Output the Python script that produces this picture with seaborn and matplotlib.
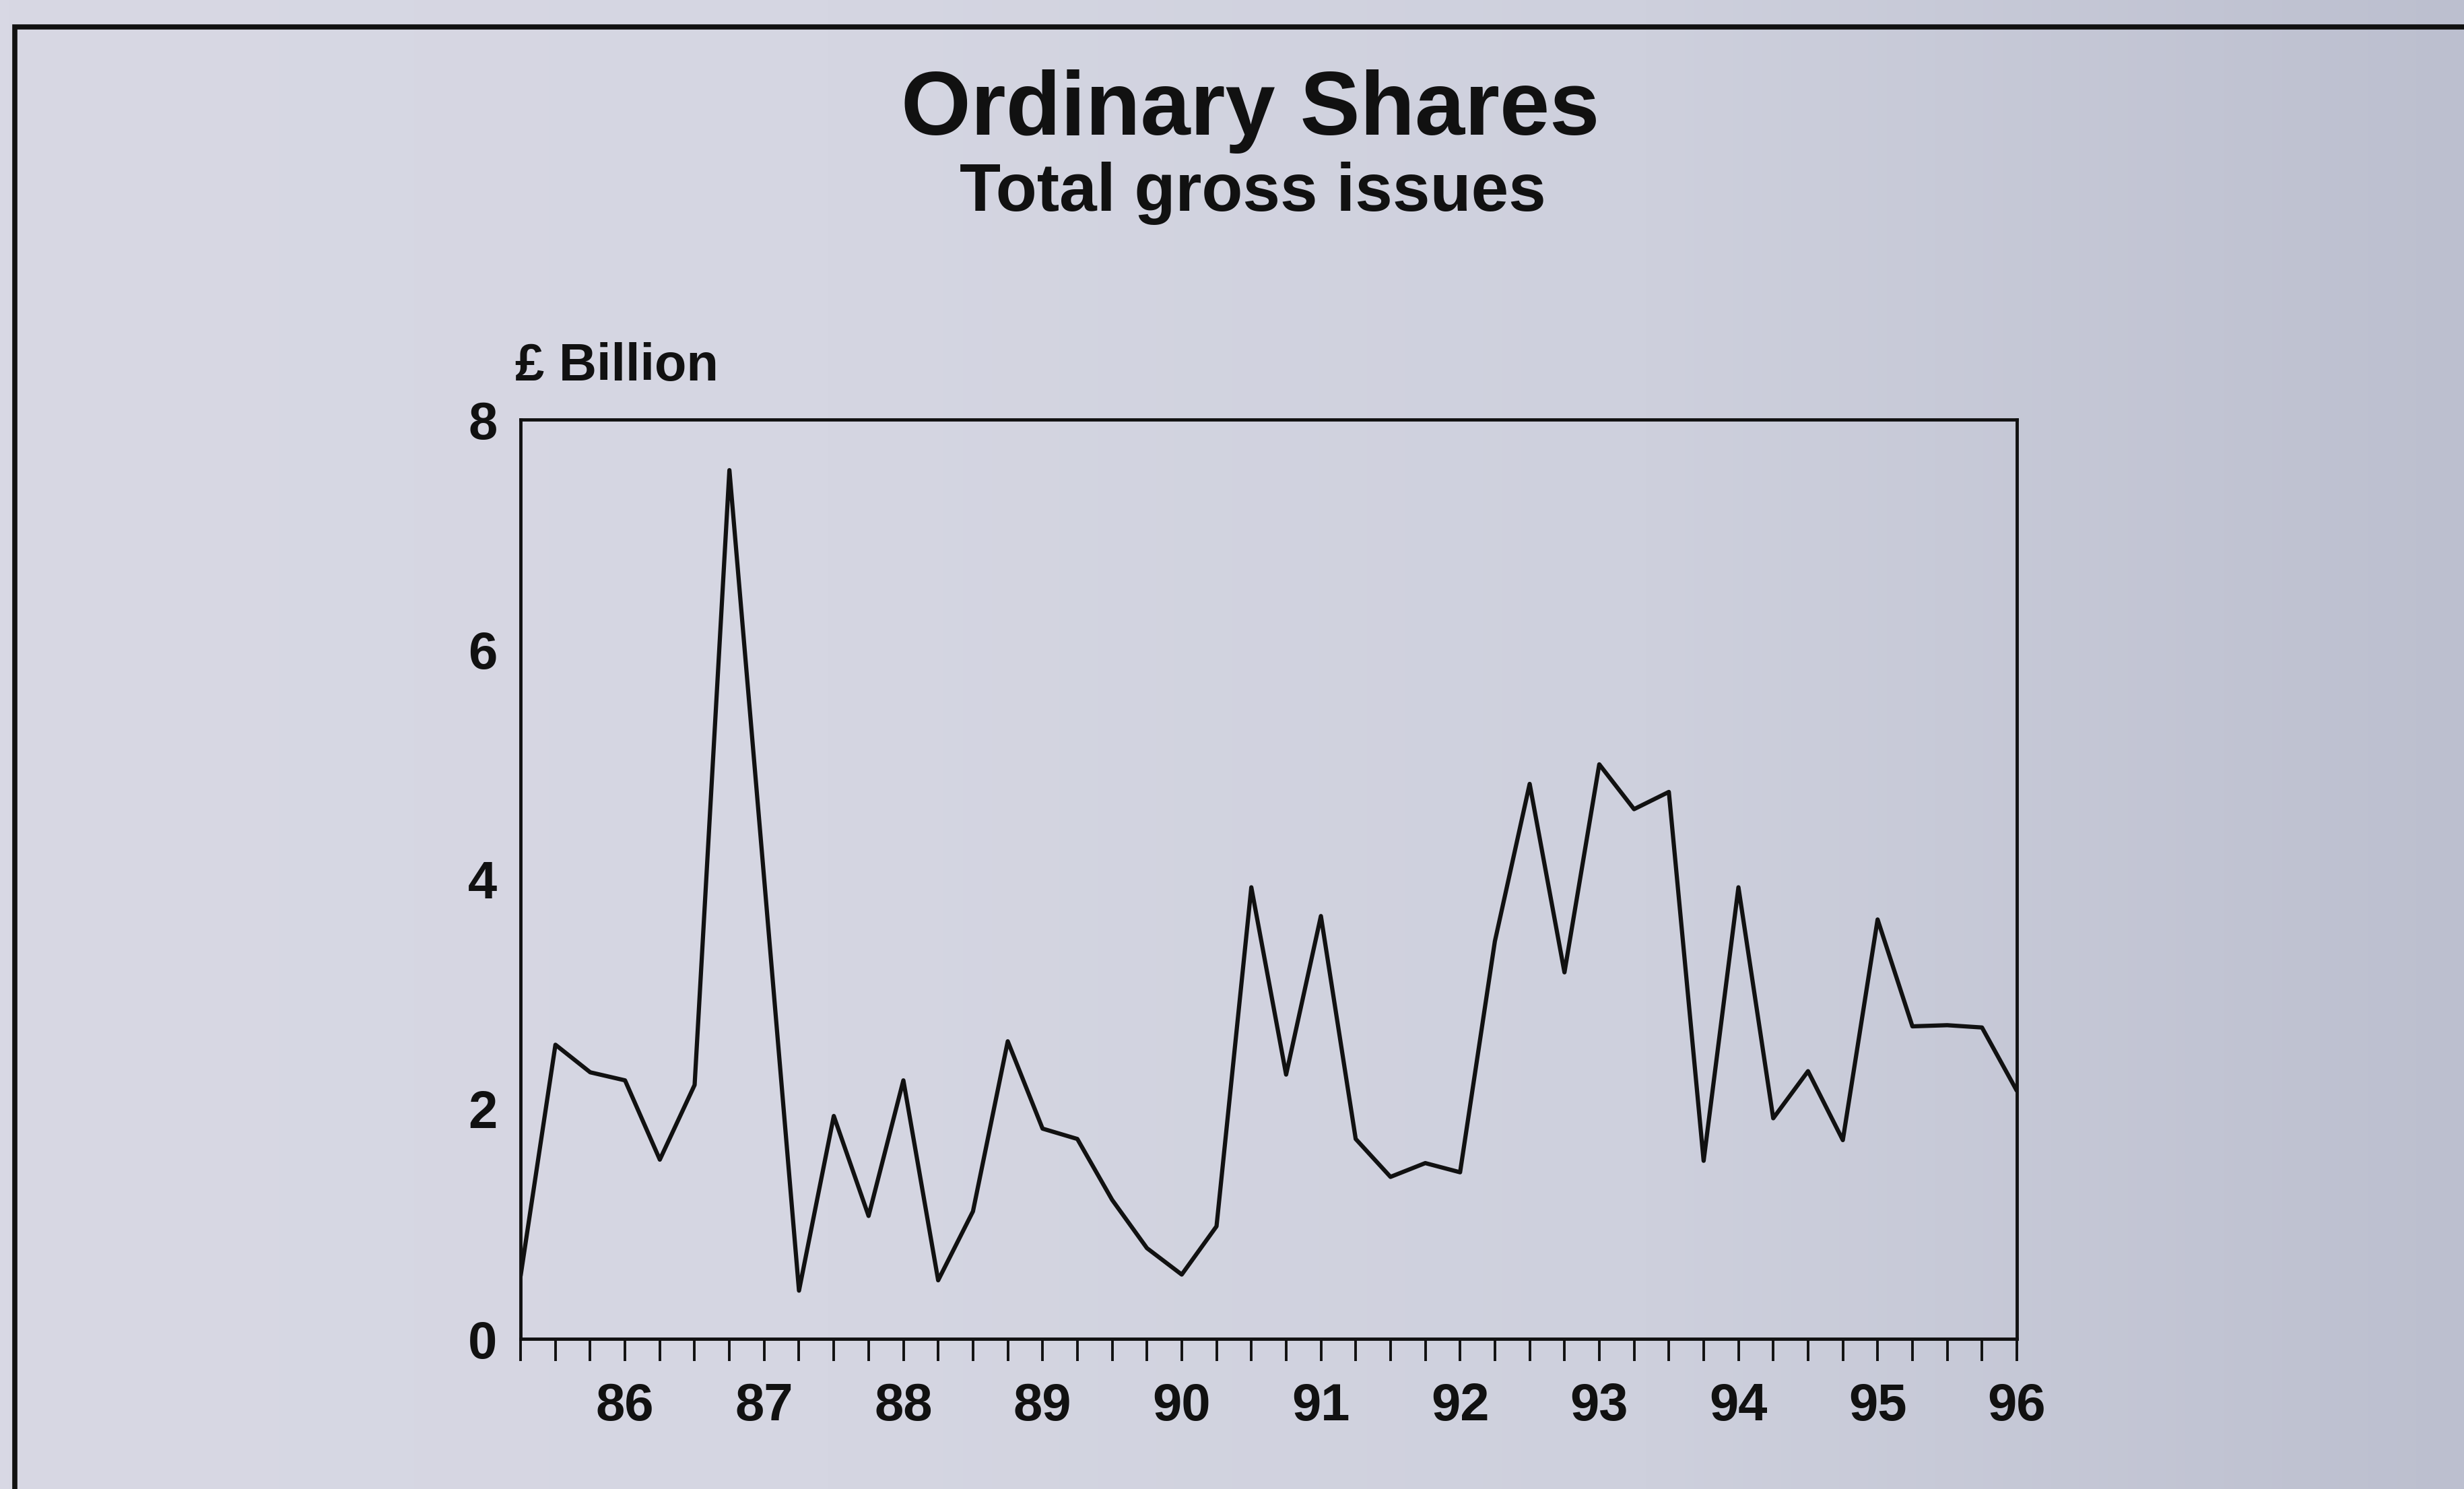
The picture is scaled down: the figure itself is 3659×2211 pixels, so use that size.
import numpy as np
import matplotlib
matplotlib.use("Agg")
import matplotlib.pyplot as plt
import matplotlib.patches as patches
from matplotlib.colors import LinearSegmentedColormap
import seaborn as sns

# Quarterly total gross issues of ordinary shares, £ billion (1985 Q2 - 1996 Q1)
issues = [0.55, 2.56, 2.32, 2.25, 1.56, 2.21, 7.56, 4.0, 0.42, 1.94,
          1.07, 2.25, 0.51, 1.11, 2.59, 1.83, 1.74, 1.21, 0.79, 0.56,
          0.98, 3.93, 2.30, 3.68, 1.74, 1.41, 1.53, 1.45, 3.46, 4.83,
          3.19, 5.00, 4.61, 4.76, 1.55, 3.93, 1.92, 2.33, 1.73, 3.65,
          2.72, 2.73, 2.71, 2.16]
year_labels = ["86", "87", "88", "89", "90", "91", "92", "93", "94", "95", "96"]
y_ticks = [0, 2, 4, 6, 8]

sns.set_style("ticks")
plt.rcParams["font.family"] = ["Liberation Sans", "DejaVu Sans"]
plt.rcParams["font.weight"] = "bold"

ink = "#111111"
fig = plt.figure(figsize=(36.59, 22.11), dpi=100)

# scanned-paper background, a bit darker on the right
bg = fig.add_axes([0, 0, 1, 1], zorder=-10)
paper = LinearSegmentedColormap.from_list(
    "paper", ["#d8d8e4", "#d5d6e2", "#ced0dd", "#bcbfcf"])
bg.imshow(np.linspace(0, 1, 256).reshape(1, -1), aspect="auto", cmap=paper,
          extent=[0, 1, 0, 1])
bg.axis("off")

# outer frame (runs off the right and bottom edges)
fig.patches.append(patches.Rectangle((0.006, -0.05), 1.05, 0.05 + 0.9819,
                                     transform=fig.transFigure, fill=False,
                                     edgecolor=ink, linewidth=5.5,
                                     clip_on=False))

ax = fig.add_axes([0.2113, 0.1008, 0.6072, 0.6174])
ax.patch.set_alpha(0)

x = np.arange(len(issues))
sns.lineplot(x=x, y=issues, ax=ax, color=ink, linewidth=4.5)

ax.set_xlim(0, len(issues) - 1)
ax.set_ylim(0, 8)
ax.set_xticks(x)
labels = [""] * len(issues)
for i, lab in enumerate(year_labels):
    labels[3 + 4 * i] = lab
ax.set_xticklabels(labels)
ax.set_yticks(y_ticks)
ax.set_yticklabels([str(v) for v in y_ticks])

ax.tick_params(axis="x", length=24, width=2.8, pad=22, labelsize=56,
               color=ink, labelcolor=ink, direction="out")
ax.tick_params(axis="y", length=0, pad=25, labelsize=56, labelcolor=ink)
for lab in ax.get_xticklabels() + ax.get_yticklabels():
    lab.set_fontweight("bold")
for s in ax.spines.values():
    s.set_visible(True)
    s.set_linewidth(3.5)
    s.set_color(ink)
ax.set_xlabel("")
ax.set_ylabel("")

fig.text(0.5075, 0.9095, "Ordinary Shares", ha="center", va="baseline",
         fontsize=96, fontweight="bold", color=ink)
fig.text(0.5085, 0.8584, "Total gross issues", ha="center", va="baseline",
         fontsize=72, fontweight="bold", color=ink)
fig.text(0.209, 0.7445, "£ Billion", ha="left", va="baseline",
         fontsize=56, fontweight="bold", color=ink)

fig.savefig("out.png", dpi=100)
